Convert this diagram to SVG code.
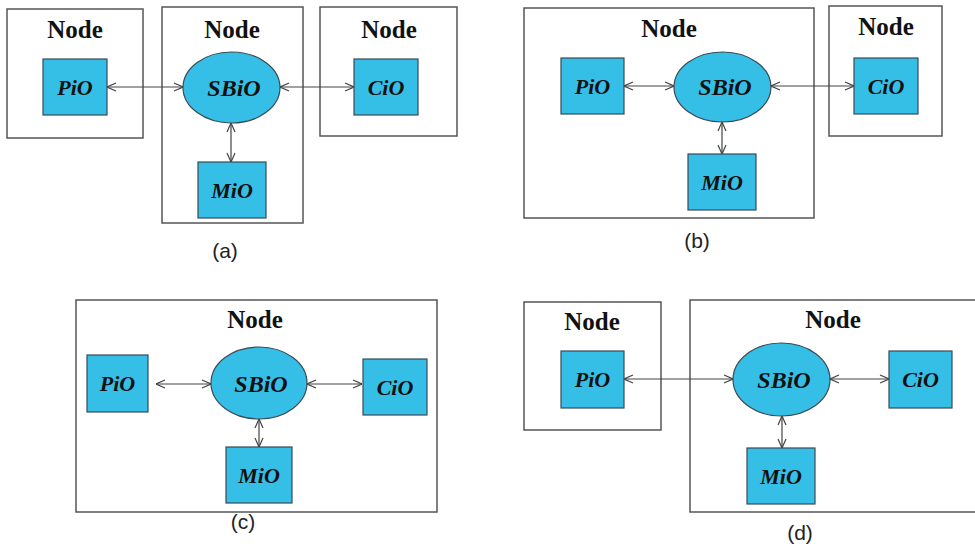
<svg xmlns="http://www.w3.org/2000/svg" width="975" height="544" viewBox="0 0 975 544">
  <style>
    .frame { fill: #ffffff; stroke: #555555; stroke-width: 1.5; }
    .box { fill: #35bfe6; stroke: #3a4a55; stroke-width: 1.2; }
    .hub { fill: #35bfe6; stroke: #3a4a55; stroke-width: 1.2; }
    .title { font-family: "Liberation Serif", "Times New Roman", serif; font-weight: bold; font-size: 25px; fill: #111111; text-anchor: middle; }
    .lbl { font-family: "Liberation Serif", "Times New Roman", serif; font-weight: bold; font-style: italic; font-size: 22px; fill: #111111; text-anchor: middle; }
    .lbl-hub { font-size: 24px; }
    .cap { font-family: "Liberation Sans", Arial, sans-serif; font-size: 21px; fill: #222222; text-anchor: middle; }
    .link { fill: none; stroke: #444444; stroke-width: 1.2; marker-start: url(#chev); marker-end: url(#chev); }
  </style>
  <defs>
    <marker id="chev" viewBox="0 0 10 10" refX="10" refY="5" markerWidth="10" markerHeight="10" markerUnits="userSpaceOnUse" orient="auto-start-reverse">
      <path d="M1,1 L10,5 L1,9" fill="none" stroke="#444444" stroke-width="1.2"/>
    </marker>
  </defs>

  <rect width="975" height="544" fill="#ffffff"/>

  <!-- (a) three separate nodes -->
  <g id="a-node-left">
    <rect class="frame" x="7" y="9" width="136" height="129"/>
    <text class="title" x="75" y="38">Node</text>
  </g>
  <g id="a-node-mid">
    <rect class="frame" x="162" y="7" width="141" height="216"/>
    <text class="title" x="232" y="38">Node</text>
  </g>
  <g id="a-node-right">
    <rect class="frame" x="320" y="7" width="137" height="129"/>
    <text class="title" x="389" y="38">Node</text>
  </g>
  <g id="a-pio">
    <rect class="box" x="43" y="59" width="64" height="56"/>
    <text class="lbl" x="75" y="95">PiO</text>
  </g>
  <g id="a-sbio">
    <ellipse class="hub" cx="231.5" cy="87.5" rx="48.5" ry="35.5"/>
    <text class="lbl lbl-hub" x="234" y="96">SBiO</text>
  </g>
  <g id="a-cio">
    <rect class="box" x="354" y="59" width="64" height="56"/>
    <text class="lbl" x="386" y="95">CiO</text>
  </g>
  <g id="a-mio">
    <rect class="box" x="198" y="162" width="68" height="56"/>
    <text class="lbl" x="232" y="198">MiO</text>
  </g>
  <text class="cap" x="225" y="258">(a)</text>

  <!-- (b) two nodes -->
  <g id="b-node-main">
    <rect class="frame" x="524" y="8" width="290" height="210"/>
    <text class="title" x="669" y="37">Node</text>
  </g>
  <g id="b-node-right">
    <rect class="frame" x="829" y="6" width="113" height="130"/>
    <text class="title" x="886" y="35">Node</text>
  </g>
  <g id="b-pio">
    <rect class="box" x="561" y="58" width="63" height="56"/>
    <text class="lbl" x="592.5" y="94">PiO</text>
  </g>
  <g id="b-sbio">
    <ellipse class="hub" cx="722.5" cy="87" rx="48.5" ry="35"/>
    <text class="lbl lbl-hub" x="725" y="95">SBiO</text>
  </g>
  <g id="b-mio">
    <rect class="box" x="688" y="154" width="68" height="56"/>
    <text class="lbl" x="722" y="190">MiO</text>
  </g>
  <g id="b-cio">
    <rect class="box" x="854" y="58" width="64" height="56"/>
    <text class="lbl" x="886" y="94">CiO</text>
  </g>
  <text class="cap" x="697" y="248">(b)</text>

  <!-- (c) single node -->
  <g id="c-node">
    <rect class="frame" x="76" y="300" width="361" height="212"/>
    <text class="title" x="255" y="328">Node</text>
  </g>
  <g id="c-pio">
    <rect class="box" x="87" y="355" width="61" height="57"/>
    <text class="lbl" x="117.5" y="391">PiO</text>
  </g>
  <g id="c-sbio">
    <ellipse class="hub" cx="259" cy="383" rx="48" ry="36"/>
    <text class="lbl lbl-hub" x="261" y="392">SBiO</text>
  </g>
  <g id="c-cio">
    <rect class="box" x="363" y="359" width="64" height="56"/>
    <text class="lbl" x="395" y="395">CiO</text>
  </g>
  <g id="c-mio">
    <rect class="box" x="226" y="447" width="66" height="56"/>
    <text class="lbl" x="259" y="483">MiO</text>
  </g>
  <text class="cap" x="243" y="529">(c)</text>

  <!-- (d) two nodes -->
  <g id="d-node-left">
    <rect class="frame" x="524" y="302" width="137" height="128"/>
    <text class="title" x="592" y="330">Node</text>
  </g>
  <g id="d-node-main">
    <rect class="frame" x="690" y="300" width="300" height="212"/>
    <text class="title" x="833" y="328">Node</text>
  </g>
  <g id="d-pio">
    <rect class="box" x="561" y="351" width="63" height="57"/>
    <text class="lbl" x="592.5" y="387">PiO</text>
  </g>
  <g id="d-sbio">
    <ellipse class="hub" cx="781.5" cy="379.5" rx="48.5" ry="36.5"/>
    <text class="lbl lbl-hub" x="784" y="388">SBiO</text>
  </g>
  <g id="d-cio">
    <rect class="box" x="889" y="351" width="63" height="57"/>
    <text class="lbl" x="920.5" y="387">CiO</text>
  </g>
  <g id="d-mio">
    <rect class="box" x="747" y="448" width="68" height="56"/>
    <text class="lbl" x="781" y="484">MiO</text>
  </g>
  <text class="cap" x="800" y="540">(d)</text>

  <!-- two-way links -->
  <g id="connectors">
    <line class="link" x1="107" y1="87" x2="183" y2="87"/>
    <line class="link" x1="280" y1="87" x2="354" y2="87"/>
    <line class="link" x1="231" y1="123" x2="231" y2="162"/>

    <line class="link" x1="624" y1="86" x2="674" y2="86"/>
    <line class="link" x1="771" y1="86" x2="854" y2="86"/>
    <line class="link" x1="722" y1="122" x2="722" y2="154"/>

    <line class="link" x1="156" y1="384" x2="211" y2="384"/>
    <line class="link" x1="307" y1="384" x2="362" y2="384"/>
    <line class="link" x1="259" y1="419" x2="259" y2="447"/>

    <line class="link" x1="624" y1="379" x2="733" y2="379"/>
    <line class="link" x1="830" y1="379" x2="889" y2="379"/>
    <line class="link" x1="782" y1="416" x2="782" y2="448"/>
  </g>
</svg>
